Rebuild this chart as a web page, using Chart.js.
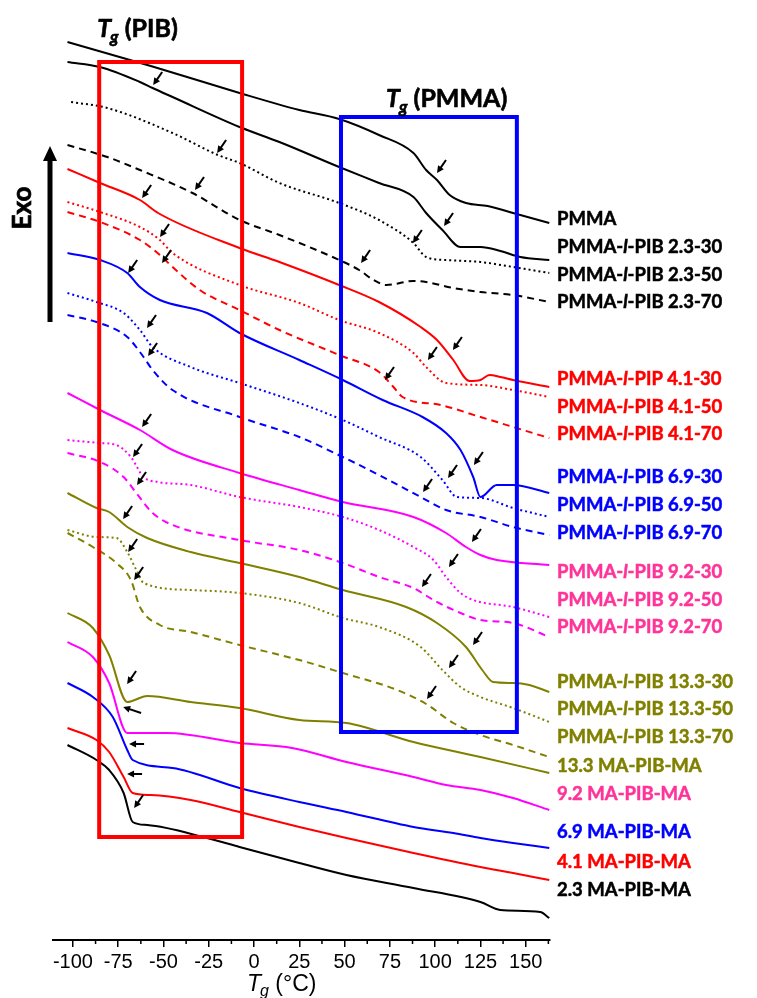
<!DOCTYPE html>
<html>
<head>
<meta charset="utf-8">
<script src="https://cdn.jsdelivr.net/npm/chart.js@4.4.0/dist/chart.umd.min.js"></script>
<style>
  html, body { margin: 0; padding: 0; background: #fff; }
</style>
</head>
<body>
<canvas id="dsc" width="757" height="998"></canvas>
<script>
// DSC traces: [T (°C), heat flow (a.u., shifted)]
const pmma    = [[-103,89.8],[-57,87.4],[-8,84.7],[25,83.0],[47,82.1],[69,80.5],[88,78.7],[95,77.0],[101,76.0],[108,74.5],[117,73.7],[129,73.4],[143,72.7],[163,71.7]];
const b23_30  = [[-103,87.8],[-85,87.3],[-63,85.8],[-56,85.2],[-45,84.3],[-8,81.3],[14,79.8],[47,77.3],[69,75.7],[88,74.3],[95,72.7],[104,71.0],[114,69.3],[125,69.3],[136,68.9],[147,68.3],[163,68.0]];
const b23_50  = [[-101,83.8],[-81,83.2],[-45,80.7],[-20,78.5],[-8,77.7],[14,75.7],[47,73.7],[69,72.0],[88,69.7],[95,68.3],[106,68.0],[125,67.8],[143,67.3],[163,66.7]];
const b23_70  = [[-103,79.5],[-81,78.3],[-63,77.0],[-34,74.7],[-8,72.0],[14,70.5],[47,68.0],[58,67.0],[66,66.0],[73,65.5],[88,65.9],[95,65.8],[110,65.2],[125,64.8],[143,64.5],[163,63.8]];
const r41_30  = [[-103,77.1],[-85,75.7],[-63,74.0],[-53,72.7],[-8,69.2],[14,67.8],[47,65.5],[69,63.8],[92,61.3],[101,60.0],[110,58.0],[119,55.9],[125,56.0],[130,56.5],[136,56.3],[143,56.0],[163,55.3]];
const r41_50  = [[-103,73.8],[-85,72.8],[-63,71.3],[-52,70.0],[-45,68.7],[-8,65.5],[25,63.7],[47,62.0],[69,60.7],[88,58.7],[95,57.3],[106,55.7],[125,55.5],[143,55.0],[163,54.3]];
const r41_70  = [[-103,72.8],[-85,71.8],[-63,70.0],[-52,68.5],[-45,67.3],[-30,65.0],[-8,63.0],[14,61.0],[47,58.5],[69,56.8],[77,55.3],[82,54.3],[103,53.5],[125,52.3],[143,51.3],[163,50.2]];
const u69_30  = [[-103,68.7],[-85,68.0],[-70,66.7],[-63,65.3],[-52,64.0],[-26,62.7],[-8,60.7],[25,58.0],[49,56.0],[71,54.0],[93,52.3],[106,50.7],[114,49.0],[121,46.3],[125,44.3],[134,45.5],[143,45.5],[163,44.7]];
const u69_50  = [[-103,64.7],[-87,63.8],[-72,62.7],[-63,61.0],[-56,59.3],[-35,57.3],[-8,55.7],[25,53.7],[49,52.0],[69,50.3],[92,48.3],[104,46.0],[112,44.3],[125,44.2],[143,43.2],[163,42.3]];
const u69_70  = [[-103,62.5],[-87,61.8],[-70,60.3],[-61,58.3],[-56,57.0],[-45,55.0],[-8,52.3],[25,50.3],[49,48.3],[69,46.5],[92,44.3],[106,43.0],[125,42.3],[143,41.3],[163,40.5]];
const m92_30  = [[-103,54.7],[-85,53.0],[-63,51.0],[-45,49.0],[-8,46.7],[25,45.0],[49,43.8],[88,42.3],[106,40.7],[117,39.3],[125,38.5],[134,38.0],[163,37.5]];
const m92_50  = [[-103,50.0],[-85,49.7],[-76,49.5],[-68,48.3],[-61,46.3],[-53,45.8],[-35,45.5],[-8,44.3],[25,43.3],[49,42.3],[69,41.0],[88,39.3],[99,38.0],[106,36.3],[114,34.7],[121,34.0],[143,33.3],[163,32.3]];
const m92_70  = [[-103,48.7],[-85,47.8],[-72,46.3],[-65,44.7],[-56,42.7],[-45,41.5],[-8,40.0],[25,39.0],[49,37.7],[69,36.3],[88,35.2],[99,34.0],[114,32.7],[125,32.0],[143,31.7],[163,30.3]];
const o133_30 = [[-103,44.7],[-87,43.2],[-80,42.8],[-70,41.3],[-59,40.2],[-35,38.8],[-8,37.7],[25,36.3],[49,35.0],[84,33.3],[101,31.7],[117,29.3],[126,27.0],[132,25.8],[143,25.7],[152,25.5],[163,24.8]];
const o133_50 = [[-103,41.0],[-87,40.3],[-76,40.2],[-70,38.8],[-65,37.0],[-61,35.7],[-35,35.0],[-8,34.7],[25,33.7],[49,32.2],[69,31.3],[92,29.3],[104,27.0],[114,25.3],[125,24.3],[143,23.2],[163,21.8]];
const o133_70 = [[-103,40.7],[-89,39.3],[-76,37.7],[-68,36.0],[-63,33.3],[-52,31.5],[-35,30.8],[-8,29.5],[25,28.0],[49,26.7],[79,25.0],[95,23.6],[110,21.7],[125,20.5],[143,19.5],[163,18.3]];
const o133_ma = [[-103,32.7],[-89,31.2],[-80,28.5],[-70,23.8],[-59,24.4],[-35,23.8],[-8,23.2],[25,22.0],[51,21.7],[88,19.8],[125,18.3],[163,16.7]];
const m92_ma  = [[-103,29.8],[-89,28.3],[-80,25.7],[-70,20.7],[-48,20.7],[-8,19.7],[21,19.2],[51,17.8],[88,16.3],[106,15.5],[125,15.0],[143,14.2],[163,13.0]];
const u69_ma  = [[-103,25.7],[-89,24.3],[-78,22.3],[-70,19.0],[-67,18.0],[-45,17.2],[-8,15.2],[25,13.8],[51,12.8],[88,11.3],[110,10.7],[125,10.2],[143,9.7],[163,9.2]];
const r41_ma  = [[-103,21.2],[-87,20.0],[-80,18.8],[-72,16.3],[-67,14.7],[-57,14.5],[-35,14.0],[-8,12.8],[25,11.3],[51,10.2],[88,8.7],[125,7.3],[143,6.7],[163,6.0]];
const b23_ma  = [[-103,19.5],[-87,18.0],[-80,17.0],[-72,14.7],[-67,11.8],[-59,11.5],[-26,10.2],[-8,9.3],[25,7.7],[51,6.5],[88,5.2],[125,3.8],[136,3.0],[158,2.8],[163,2.2]];

const seriesData = [pmma, b23_30, b23_50, b23_70, r41_30, r41_50, r41_70, u69_30, u69_50, u69_70,
  m92_30, m92_50, m92_70, o133_30, o133_50, o133_70, o133_ma, m92_ma, u69_ma, r41_ma, b23_ma];
const seriesNames = ['PMMA', 'PMMA-l-PIB 2.3-30', 'PMMA-l-PIB 2.3-50', 'PMMA-l-PIB 2.3-70',
  'PMMA-l-PIP 4.1-30', 'PMMA-l-PIB 4.1-50', 'PMMA-l-PIB 4.1-70',
  'PMMA-l-PIB 6.9-30', 'PMMA-l-PIB 6.9-50', 'PMMA-l-PIB 6.9-70',
  'PMMA-l-PIB 9.2-30', 'PMMA-l-PIB 9.2-50', 'PMMA-l-PIB 9.2-70',
  'PMMA-l-PIB 13.3-30', 'PMMA-l-PIB 13.3-50', 'PMMA-l-PIB 13.3-70',
  '13.3 MA-PIB-MA', '9.2 MA-PIB-MA', '6.9 MA-PIB-MA', '4.1 MA-PIB-MA', '2.3 MA-PIB-MA'];
// label heights on the right, in heat flow units
const labelAt = [72.1, 69.3, 66.5, 63.8, 56.1, 53.3, 50.6, 46.3, 43.5, 40.7, 36.8, 34.0, 31.3, 25.8, 23.1, 20.3, 17.4, 14.6, 10.8, 7.8, 5.0];

// Tg markers: [T, heat flow, direction]
const tgArrows = [
  [-55.7,85.5,'dl'],[-20.4,78.7,'dl'],[-32.6,75.0,'dl'],[-61.8,74.2,'dl'],[-51.9,70.3,'dl'],[-50.8,67.7,'dl'],
  [-69.5,66.7,'dl'],[-59.1,61.2,'dl'],[-58.5,58.4,'dl'],[-61.8,51.3,'dl'],[-66.8,48.3,'dl'],[-64.6,45.5,'dl'],
  [-72.3,42.1,'dl'],[-69.5,38.8,'dl'],[-66.2,36.0,'dl'],[-70.1,25.6,'dl'],[-72.3,23.3,'ul'],[-69.0,19.6,'l'],
  [-70.1,16.6,'l'],[-66.2,13.2,'dl'],
  [101.0,76.7,'dl'],[104.9,71.4,'dl'],[87.7,69.7,'dl'],[59.1,67.7,'dl'],[109.8,59.0,'dl'],[96.0,58.0,'dl'],
  [72.3,56.0,'dl'],[121.4,47.5,'dl'],[107.1,46.2,'dl'],[93.3,44.8,'dl'],[120.3,39.8,'dl'],[107.6,37.3,'dl'],
  [92.7,35.3,'dl'],[120.9,29.5,'dl'],[107.6,27.2,'dl'],[95.5,24.1,'dl']
];
// Tg windows: [Tmin, Tmax, low, high]
const pibWindow = [-85.5, -6.6, 10.3, 87.8];
const pmmaWindow = [48.0, 145.1, 20.8, 82.3];

const xTicks = [-100, -75, -50, -25, 0, 25, 50, 75, 100, 125, 150];
const xMinorTicks = [-87.5, -62.5, -37.5, -12.5, 12.5, 37.5, 62.5, 87.5, 112.5, 137.5, 162.5];

const BLACK = '#000000', RED = '#ff0000', BLUE = '#0000ff', MAG = '#ff00ff', OLIVE = '#808000';
const lineColors = [BLACK, BLACK, BLACK, BLACK, RED, RED, RED, BLUE, BLUE, BLUE, MAG, MAG, MAG,
  OLIVE, OLIVE, OLIVE, OLIVE, MAG, BLUE, RED, BLACK];
const textColors = lineColors.map(c => c === MAG ? '#ff3399' : c);
const DOT = [2, 3], DASH = [7, 5];
const lineDash = [[], [], DOT, DASH, [], DOT, DASH, [], DOT, DASH, [], DOT, DASH, [], DOT, DASH, [], [], [], [], []];

// bold text with a thin outline so it reads as heavy as the original
function heavyText(ctx, s, x, y) {
  ctx.fillText(s, x, y);
  ctx.strokeText(s, x, y);
}

function drawName(ctx, name, x, y, color) {
  const size = 18.5;
  ctx.fillStyle = color;
  ctx.strokeStyle = color;
  ctx.lineWidth = 0.5;
  ctx.textBaseline = 'middle';
  ctx.textAlign = 'left';
  const parts = name.split('-l-');
  if (parts.length === 2) {
    ctx.font = `bold ${size}px Lato`;
    heavyText(ctx, parts[0] + '-', x, y);
    x += ctx.measureText(parts[0] + '-').width;
    ctx.font = `italic bold ${size}px Lato`;
    heavyText(ctx, 'l', x, y);
    x += ctx.measureText('l').width;
    ctx.font = `bold ${size}px Lato`;
    heavyText(ctx, '-' + parts[1], x, y);
  } else {
    ctx.font = `bold ${size}px Lato`;
    heavyText(ctx, name, x, y);
  }
}

function drawArrow(ctx, tx, ty, dir) {
  let dx = 9, dy = -13;
  if (dir === 'l') { dx = 15; dy = 0; }
  if (dir === 'ul') { dx = 18; dy = 6; }
  const len = Math.hypot(dx, dy), ux = dx / len, uy = dy / len;
  const head = 7, hw = 3.5;
  ctx.strokeStyle = '#000';
  ctx.lineWidth = 2;
  ctx.beginPath();
  ctx.moveTo(tx + ux * (head - 1), ty + uy * (head - 1));
  ctx.lineTo(tx + dx, ty + dy);
  ctx.stroke();
  ctx.fillStyle = '#000';
  ctx.beginPath();
  ctx.moveTo(tx, ty);
  ctx.lineTo(tx + ux * head - uy * hw, ty + uy * head + ux * hw);
  ctx.lineTo(tx + ux * head + uy * hw, ty + uy * head - ux * hw);
  ctx.closePath();
  ctx.fill();
}

function drawTg(ctx, x, base, rest) {
  ctx.fillStyle = '#000';
  ctx.strokeStyle = '#000';
  ctx.lineWidth = 0.6;
  ctx.textBaseline = 'alphabetic';
  ctx.textAlign = 'left';
  ctx.font = 'italic bold 25px Lato';
  heavyText(ctx, 'T', x, base);
  x += ctx.measureText('T').width - 1;
  ctx.font = 'italic bold 17px Lato';
  heavyText(ctx, 'g', x, base + 6);
  x += ctx.measureText('g').width;
  ctx.font = 'bold 25px Lato';
  heavyText(ctx, ' ' + rest, x, base);
}

const annotations = {
  id: 'annotations',
  afterDatasetsDraw(chart) {
    const { ctx, chartArea } = chart;
    const xs = chart.scales.x, ys = chart.scales.y;
    ctx.save();

    // Tg windows
    ctx.lineWidth = 4;
    [[pibWindow, RED], [pmmaWindow, BLUE]].forEach(([w, c]) => {
      const l = xs.getPixelForValue(w[0]), r = xs.getPixelForValue(w[1]);
      const t = ys.getPixelForValue(w[3]), b = ys.getPixelForValue(w[2]);
      ctx.strokeStyle = c;
      ctx.strokeRect(l, t, r - l, b - t);
    });

    // Tg markers
    tgArrows.forEach(a => drawArrow(ctx, xs.getPixelForValue(a[0]), ys.getPixelForValue(a[1]), a[2]));

    // sample names
    seriesNames.forEach((n, i) => drawName(ctx, n, chartArea.right + 7, ys.getPixelForValue(labelAt[i]), textColors[i]));

    // window titles
    drawTg(ctx, xs.getPixelForValue(pibWindow[0]) - 2, ys.getPixelForValue(pibWindow[3]) - 25, '(PIB)');
    drawTg(ctx, xs.getPixelForValue(pmmaWindow[0]) + 45, ys.getPixelForValue(pmmaWindow[3]) - 10, '(PMMA)');

    // Exo arrow
    ctx.strokeStyle = '#000';
    ctx.fillStyle = '#000';
    ctx.lineWidth = 5;
    ctx.beginPath();
    ctx.moveTo(50, 322);
    ctx.lineTo(50, 156);
    ctx.stroke();
    ctx.beginPath();
    ctx.moveTo(50, 146);
    ctx.lineTo(43, 161);
    ctx.lineTo(57, 161);
    ctx.closePath();
    ctx.fill();
    ctx.save();
    ctx.translate(23, 208);
    ctx.rotate(-Math.PI / 2);
    ctx.font = 'bold 26px Lato';
    ctx.lineWidth = 0.7;
    ctx.textAlign = 'center';
    ctx.textBaseline = 'middle';
    heavyText(ctx, 'Exo', 0, 0);
    ctx.restore();

    // minor ticks
    ctx.lineWidth = 1.5;
    ctx.beginPath();
    xMinorTicks.forEach(v => {
      const px = xs.getPixelForValue(v);
      ctx.moveTo(px, chartArea.bottom);
      ctx.lineTo(px, chartArea.bottom + 4);
    });
    ctx.stroke();

    // axis title
    let tx = 247;
    const tb = 991;
    ctx.textAlign = 'left';
    ctx.textBaseline = 'alphabetic';
    ctx.font = 'italic 23px "Liberation Sans"';
    ctx.fillText('T', tx, tb);
    tx += ctx.measureText('T').width - 1;
    ctx.font = 'italic 16px "Liberation Sans"';
    ctx.fillText('g', tx, tb + 5);
    tx += ctx.measureText('g').width;
    ctx.font = '23px "Liberation Sans"';
    ctx.fillText(' (°C)', tx, tb);

    ctx.restore();
  }
};

new Chart(document.getElementById('dsc').getContext('2d'), {
  type: 'line',
  data: {
    datasets: seriesData.map((d, i) => ({
      label: seriesNames[i],
      data: d.map(p => ({ x: p[0], y: p[1] })),
      borderColor: lineColors[i],
      borderDash: lineDash[i],
      borderWidth: 2,
      pointRadius: 0,
      fill: false,
      cubicInterpolationMode: 'monotone'
    }))
  },
  options: {
    responsive: false,
    animation: false,
    layout: { padding: { left: 53, right: 207, top: 0, bottom: 0 } },
    plugins: { legend: { display: false }, tooltip: { enabled: false } },
    scales: {
      x: {
        type: 'linear',
        min: -111,
        max: 163.4,
        afterBuildTicks: s => { s.ticks = xTicks.map(v => ({ value: v })); },
        afterFit: s => { s.height = 58; },
        grid: { drawOnChartArea: false, drawTicks: true, tickLength: 7, color: '#000', lineWidth: 1.5 },
        border: { color: '#000', width: 2 },
        ticks: { color: '#000', font: { family: 'Liberation Sans', size: 20 }, padding: 3, maxRotation: 0, autoSkip: false }
      },
      y: { display: false, min: 0, max: 94 }
    }
  },
  plugins: [annotations]
});
</script>
</body>
</html>
